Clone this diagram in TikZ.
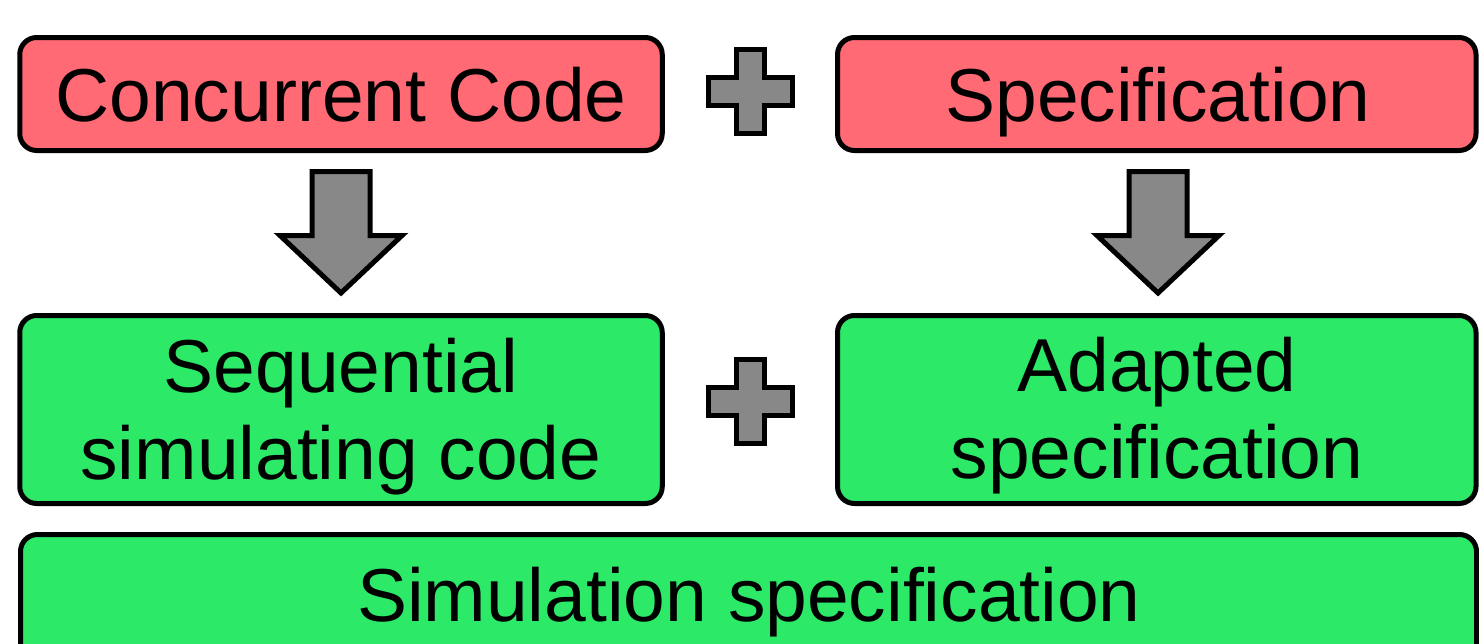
\documentclass[tikz,border=0pt]{standalone}
\usepackage{fontspec}
\setmainfont{Liberation Sans}
\definecolor{boxred}{RGB}{255,106,117}
\definecolor{boxgreen}{RGB}{44,234,104}
\definecolor{blockgray}{RGB}{136,136,136}
\begin{document}
\begin{tikzpicture}[x=1pt,y=-1pt,
  box/.style={draw=black, line width=5pt, rounded corners=17pt, inner sep=0pt, outer sep=0pt},
  redbox/.style={box, fill=boxred},
  greenbox/.style={box, fill=boxgreen},
  lbl/.style={font=\fontsize{75}{86}\selectfont, anchor=base, inner sep=0pt},
  blk/.style={draw=black, line width=5pt, fill=blockgray, line join=miter}]
\useasboundingbox (0,0) rectangle (1479,643);
\clip (0,0) rectangle (1479,643);
% boxes
\node[redbox, minimum width=642.5pt, minimum height=113pt] (cc) at (341,94) {};
\node[redbox, minimum width=638.5pt, minimum height=113pt] (spec) at (1156.75,94) {};
\node[greenbox, minimum width=642.5pt, minimum height=188pt] (seq) at (341,409.5) {};
\node[greenbox, minimum width=638.5pt, minimum height=188pt] (adp) at (1156.75,409.5) {};
\node[greenbox, minimum width=1456pt, minimum height=225.5pt] (sim) at (748.5,647.25) {};
% labels
\node[lbl] (tcc) at (341,121.7) {Concurrent Code};
\node[lbl] (tspec) at (1158,121.7) {Specification};
\node[lbl] (tseq1) at (341,392.7) {Sequential};
\node[lbl] (tseq2) at (341,479.3) {simulating code};
\node[lbl] (tadp1) at (1157,391.7) {Adapted};
\node[lbl] (tadp2) at (1157,478) {specification};
\node[lbl] (tsim) at (749,621.7) {Simulation specification};
% block arrows
\coordinate (a1) at (341,171.5);
\coordinate (a2) at (1158,171.5);
\foreach \a in {a1,a2}{
  \draw[blk] (\a) ++(-29,0) -- ++(58,0) -- ++(0,64) -- ++(32,0) -- ++(-61,57.5) -- ++(-61,-57.5) -- ++(32,0) -- cycle;
}
% plus signs
\coordinate (p1) at (750,91.5);
\coordinate (p2) at (750,401.5);
\foreach \p in {p1,p2}{
  \draw[blk] (\p) ++(-14,-42) -- ++(28,0) -- ++(0,28) -- ++(28,0) -- ++(0,28) -- ++(-28,0) -- ++(0,28) -- ++(-28,0) -- ++(0,-28) -- ++(-28,0) -- ++(0,-28) -- ++(28,0) -- cycle;
}
\end{tikzpicture}
\end{document}
